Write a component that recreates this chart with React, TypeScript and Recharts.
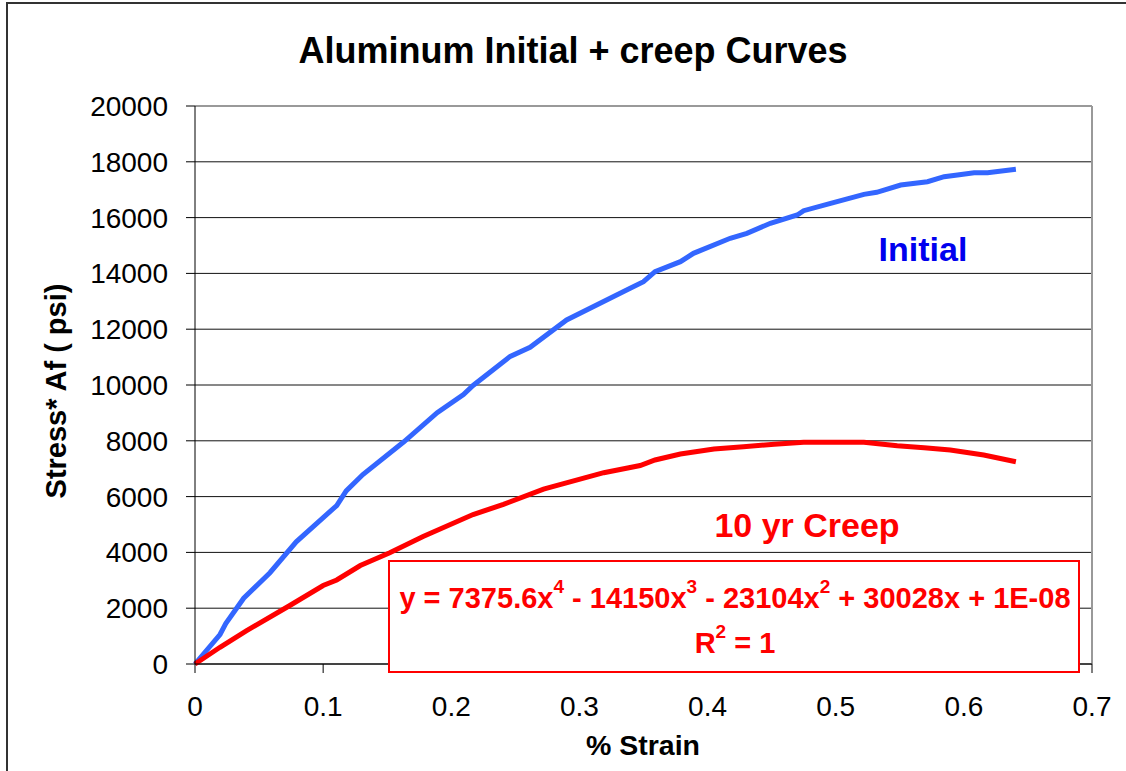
import React from "react";
import {
  LineChart,
  Line,
  XAxis,
  YAxis,
  CartesianGrid,
  ReferenceLine,
} from "recharts";

// values
const initialStrain = [
  0, 0.0195, 0.024, 0.038, 0.0585, 0.079, 0.1106, 0.118, 0.131, 0.163, 0.189,
  0.2095, 0.217, 0.246, 0.2615, 0.29, 0.3396, 0.35, 0.359, 0.3788, 0.389,
  0.4177, 0.4307, 0.449, 0.47, 0.475, 0.496, 0.522, 0.532, 0.5507, 0.5716,
  0.5846, 0.595, 0.608, 0.6185, 0.6406,
];
const initialStress = [
  0, 1057, 1448, 2358, 3272, 4380, 5681, 6204, 6792, 7964, 9007, 9660, 9982,
  11025, 11351, 12330, 13466, 13703, 14062, 14420, 14720, 15258, 15437, 15796,
  16093, 16248, 16512, 16834, 16906, 17168, 17286, 17466, 17527, 17609, 17609,
  17730,
];

const creepStrain = [
  0, 0.0195, 0.04, 0.074, 0.1, 0.1106, 0.129, 0.152, 0.178, 0.217, 0.2407,
  0.272, 0.319, 0.3474, 0.359, 0.3788, 0.405, 0.428, 0.452, 0.475, 0.522,
  0.548, 0.569, 0.5894, 0.6155, 0.6406,
];
const creepStress = [
  0, 600, 1186, 2097, 2814, 3011, 3530, 3989, 4573, 5358, 5720, 6269, 6857,
  7115, 7312, 7527, 7706, 7789, 7874, 7946, 7946, 7825, 7754, 7670, 7491, 7251,
];

const xTicks = [0, 0.1, 0.2, 0.3, 0.4, 0.5, 0.6, 0.7];
const yTicks = [
  0, 2000, 4000, 6000, 8000, 10000, 12000, 14000, 16000, 18000, 20000,
];

const initialData = initialStrain.map((s, i) => ({ strain: s, stress: initialStress[i] }));
const creepData = creepStrain.map((s, i) => ({ strain: s, stress: creepStress[i] }));

const FONT = "'Liberation Sans', Arial, sans-serif";

export default function App() {
  return (
    <div
      style={{
        position: "absolute",
        left: 0,
        top: 0,
        width: 1126,
        height: 771,
        overflow: "hidden",
        background: "#fff",
        fontFamily: FONT,
      }}
    >
      {/* outer chart frame, runs off the right/bottom edge */}
      <div
        style={{
          position: "absolute",
          left: 6,
          top: 2,
          width: 1200,
          height: 900,
          border: "2px solid #333",
        }}
      />
      <LineChart
        width={1126}
        height={771}
        margin={{ top: 106, right: 34, bottom: 47, left: 95 }}
        style={{ position: "absolute", left: 0, top: 0 }}
      >
        <CartesianGrid horizontal vertical={false} stroke="#111" strokeWidth={1} />
        <XAxis
          type="number"
          dataKey="strain"
          domain={[0, 0.7]}
          ticks={xTicks}
          allowDuplicatedCategory={false}
          height={60}
          tickSize={9}
          tickMargin={23}
          stroke="#000"
          tick={{ fontSize: 28, fill: "#000", fontFamily: FONT }}
          tickFormatter={(v) => String(v)}
        />
        <YAxis
          type="number"
          domain={[0, 20000]}
          ticks={yTicks}
          width={100}
          tickSize={9}
          tickMargin={18}
          stroke="#000"
          tick={{ fontSize: 28, fill: "#000", fontFamily: FONT }}
        />
        <ReferenceLine y={20000} stroke="#999" strokeWidth={2} />
        <ReferenceLine x={0.7} stroke="#999" strokeWidth={2} />
        <Line
          data={initialData}
          dataKey="stress"
          type="linear"
          stroke="#3366ff"
          strokeWidth={5}
          dot={false}
          isAnimationActive={false}
        />
        <Line
          data={creepData}
          dataKey="stress"
          type="linear"
          stroke="#ff0000"
          strokeWidth={5}
          dot={false}
          isAnimationActive={false}
        />
      </LineChart>
      <svg
        width={1126}
        height={771}
        style={{ position: "absolute", left: 0, top: 0, pointerEvents: "none" }}
        fontFamily={FONT}
      >
        <text x={573} y={63} textAnchor="middle" fontSize={36} fontWeight="bold" fill="#000">
          Aluminum Initial + creep Curves
        </text>
        <text
          transform="translate(66,391) rotate(-90)"
          textAnchor="middle"
          fontSize={29}
          fontWeight="bold"
          fill="#000"
        >
          Stress* Af ( psi)
        </text>
        <text x={643} y={755} textAnchor="middle" fontSize={28.5} fontWeight="bold" fill="#000">
          % Strain
        </text>
        <text x={923} y={261} textAnchor="middle" fontSize={34} fontWeight="bold" fill="#0000ee">
          Initial
        </text>
        <text x={807} y={537} textAnchor="middle" fontSize={34} fontWeight="bold" fill="#ff0000">
          10 yr Creep
        </text>
        <rect x={389} y={561} width={690} height={111} fill="#fff" stroke="#ff0000" strokeWidth={2} />
        <text x={735} y={608} textAnchor="middle" fontSize={29} fontWeight="bold" fill="#ff0000">
          y = 7375.6x<tspan fontSize={19} dy={-15}>4</tspan>
          <tspan dy={15}> - 14150x</tspan>
          <tspan fontSize={19} dy={-15}>3</tspan>
          <tspan dy={15}> - 23104x</tspan>
          <tspan fontSize={19} dy={-15}>2</tspan>
          <tspan dy={15}> + 30028x + 1E-08</tspan>
        </text>
        <text x={735} y={653} textAnchor="middle" fontSize={29} fontWeight="bold" fill="#ff0000">
          R<tspan fontSize={19} dy={-15}>2</tspan>
          <tspan dy={15}> = 1</tspan>
        </text>
      </svg>
    </div>
  );
}
